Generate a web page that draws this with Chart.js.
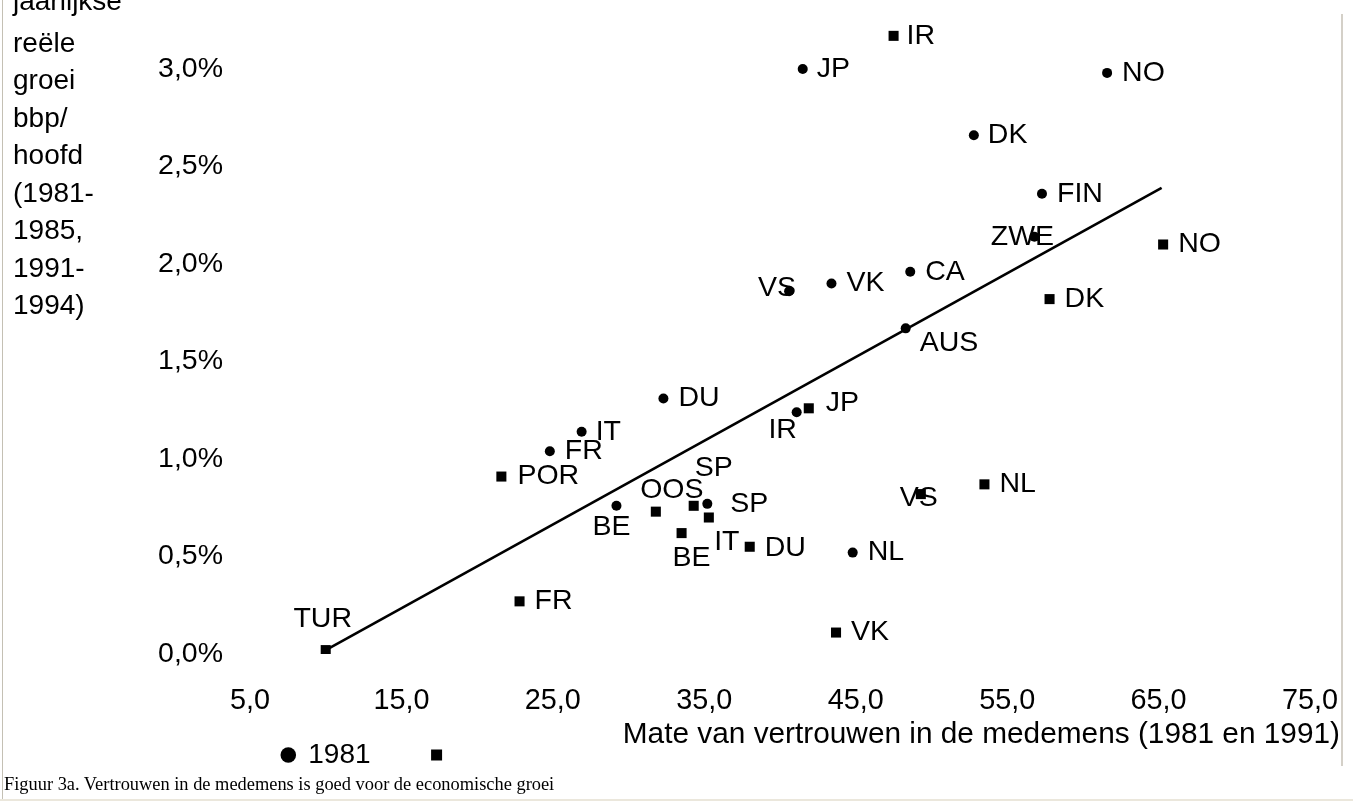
<!DOCTYPE html>
<html>
<head>
<meta charset="utf-8">
<script src="https://cdn.jsdelivr.net/npm/chart.js@4/dist/chart.umd.min.js"></script>
<style>
  html, body { margin: 0; padding: 0; background: #fff; }
  #wrap { position: relative; width: 1353px; height: 803px; overflow: hidden; }
  #chart { position: absolute; left: 0; top: 0; }
  .caption { position: absolute; left: 4px; top: 774px; font: 18.4px "Liberation Serif", "Times New Roman", serif; color: #000; white-space: nowrap; }
  .edgeLeft { position: absolute; left: 2px; top: 0; width: 1px; height: 801px; background: #c4c0b4; }
  .edgeRight { position: absolute; left: 1341px; top: 14px; width: 2px; height: 752px; background: #d4d0c8; }
  .edgeBottom { position: absolute; left: 0; top: 799px; width: 1353px; height: 2px; background: #ebe7dc; }
</style>
</head>
<body>
<div id="wrap">
  <canvas id="chart" width="1353" height="803"></canvas>
  <div class="edgeLeft"></div>
  <div class="edgeRight"></div>
  <div class="edgeBottom"></div>
  <div class="caption">Figuur 3a. Vertrouwen in de medemens is goed voor de economische groei</div>
</div>
<script>
// 1981 (circles)
const names81 = ["JP", "NO", "DK", "FIN", "ZWE", "CA", "VK", "VS", "AUS", "DU", "IR", "IT", "FR", "BE", "SP", "NL"]
const trust81 = [41.5, 61.6, 52.8, 57.3, 56.8, 48.6, 43.4, 40.6, 48.3, 32.3, 41.1, 26.9, 24.8, 29.2, 35.2, 44.8]
const growth81 = [3.00, 2.98, 2.66, 2.36, 2.14, 1.96, 1.90, 1.86, 1.67, 1.31, 1.24, 1.14, 1.04, 0.76, 0.77, 0.52]

// 1991 (squares)
const names91 = ["IR", "NO", "DK", "JP", "POR", "OOS", "SP", "IT", "BE", "DU", "NL", "VS", "FR", "VK", "TUR"]
const trust91 = [47.5, 65.3, 57.8, 41.9, 21.6, 31.8, 34.3, 35.3, 33.5, 38.0, 53.5, 49.3, 22.8, 43.7, 10.0]
const growth91 = [3.17, 2.10, 1.82, 1.26, 0.91, 0.73, 0.76, 0.70, 0.62, 0.55, 0.87, 0.82, 0.27, 0.11, 0.02]

// regression line
const trendX = [10.0, 65.2]
const trendY = [0.02, 2.39]

const xTicks = [5, 15, 25, 35, 45, 55, 65, 75]
const yTicks = [0, 0.5, 1.0, 1.5, 2.0, 2.5, 3.0]
const legendText = ["1981", ""]
const yTitleLines = ["jaarlijkse", "reële", "groei", "bbp/", "hoofd", "(1981-", "1985,", "1991-", "1994)"]
const xTitle = "Mate van vertrouwen in de medemens (1981 en 1991)"

// label placement next to each marker: [dx, dy, align]
const place81 = [[14, 0, "left"], [15, 0, "left"], [14, 0, "left"], [15, 0, "left"], [-12, 0, "center"],
  [15, 0, "left"], [15, 0, "left"], [-12, -3, "center"], [14, 15, "left"], [15, 0, "left"],
  [-14, 18, "center"], [14, 0, "left"], [15, 0, "left"], [-5, 21, "center"], [23, 0, "left"], [15, 0, "left"]]
const place91 = [[13, 0, "left"], [15, 0, "left"], [15, 0, "left"], [17, -5, "left"], [16, 0, "left"],
  [16, -22, "center"], [20, -38, "center"], [18, 25, "center"], [10, 25, "center"], [15, 1, "left"],
  [15, 0, "left"], [-2, 4, "center"], [15, 0, "left"], [15, 0, "left"], [-3, -31, "center"]]

const FONT = '"Liberation Sans", Arial, sans-serif'
const comma = (v, d) => v.toFixed(d).replace(".", ",")

const pointLabels = {
  id: "pointLabels",
  afterDatasetsDraw(chart) {
    const ctx = chart.ctx
    ctx.save()
    ctx.font = "28.5px " + FONT
    ctx.fillStyle = "#000"
    ctx.textBaseline = "middle"
    const sets = [[0, names81, place81], [1, names91, place91]]
    sets.forEach(([di, names, place]) => {
      chart.getDatasetMeta(di).data.forEach((pt, i) => {
        ctx.textAlign = place[i][2]
        ctx.fillText(names[i], pt.x + place[i][0], pt.y + place[i][1])
      })
    })
    ctx.restore()
  }
}

//Y-axis title, written horizontally in the top left corner (first line runs off the top)
const yTitle = {
  id: "yTitle",
  afterDraw(chart) {
    const ctx = chart.ctx
    ctx.save()
    ctx.font = "28px " + FONT
    ctx.fillStyle = "#000"
    ctx.textAlign = "left"
    ctx.textBaseline = "alphabetic"
    yTitleLines.forEach((line, i) => ctx.fillText(line, 13, i == 0 ? 10 : 14 + i * 37.5))
    ctx.restore()
  }
}

//Legend sits under the axis labels, left of the axis title
const legendSpot = {
  id: "legendSpot",
  afterLayout(chart) {
    const lg = chart.legend
    lg.left = 222.3
    lg.top = 681
    lg.right = 1340
    lg.bottom = 803
    lg.width = lg.right - lg.left
    lg.height = lg.bottom - lg.top
  }
}

const points = (xs, ys) => xs.map((x, i) => ({ x: x, y: ys[i] }))

new Chart(document.getElementById("chart"), {
  type: "scatter",
  data: {
    datasets: [
      { label: "1981", data: points(trust81, growth81), pointStyle: "circle", pointRadius: 5,
        backgroundColor: "#000", borderColor: "#000", borderWidth: 0 },
      { label: "1991", data: points(trust91, growth91), pointStyle: "rect", pointRadius: 7.1,
        backgroundColor: "#000", borderColor: "#000", borderWidth: 0 },
      { label: "trend", data: points(trendX, trendY), showLine: true, pointRadius: 0,
        borderColor: "#000", borderWidth: 2.6, backgroundColor: "#000" }
    ]
  },
  options: {
    responsive: false,
    animation: false,
    devicePixelRatio: 1,
    layout: { padding: { left: 0, right: 13, top: 20, bottom: 0 } },
    plugins: {
      tooltip: { enabled: false },
      legend: {
        position: "bottom",
        align: "start",
        maxHeight: 40,
        labels: {
          usePointStyle: true,
          boxWidth: 12,
          boxHeight: 11,
          padding: 60,
          color: "#000",
          font: { family: FONT, size: 28 },
          filter: item => item.datasetIndex < 2,
          generateLabels(chart) {
            return Chart.defaults.plugins.legend.labels.generateLabels(chart).map(item => {
              if (item.datasetIndex < 2) item.text = legendText[item.datasetIndex]
              return item
            })
          }
        }
      }
    },
    scales: {
      x: {
        type: "linear",
        min: 5,
        max: 76.98,
        grid: { display: false, drawTicks: false },
        border: { display: false },
        ticks: { padding: 30, autoSkip: false, maxRotation: 0, color: "#000",
          font: { family: FONT, size: 28.8 }, callback: v => comma(v, 1) },
        title: { display: true, text: xTitle, align: "end", color: "#000",
          font: { family: FONT, size: 29.8 }, padding: { top: 0, bottom: 10 } },
        afterBuildTicks: s => { s.ticks = xTicks.map(v => ({ value: v })) },
        afterFit: s => { s.height = 109; s.paddingLeft = 0; s.paddingRight = 0 }
      },
      y: {
        type: "linear",
        min: 0,
        max: 3.2513,
        grid: { display: false, drawTicks: false },
        border: { display: false },
        ticks: { padding: 27, autoSkip: false, color: "#000",
          font: { family: FONT, size: 28.5 }, callback: v => comma(v, 1) + "%" },
        afterBuildTicks: s => { s.ticks = yTicks.map(v => ({ value: v })) },
        afterFit: s => { s.width = 250; s.paddingTop = 0; s.paddingBottom = 0 }
      }
    }
  },
  plugins: [pointLabels, yTitle, legendSpot]
})
</script>
</body>
</html>
